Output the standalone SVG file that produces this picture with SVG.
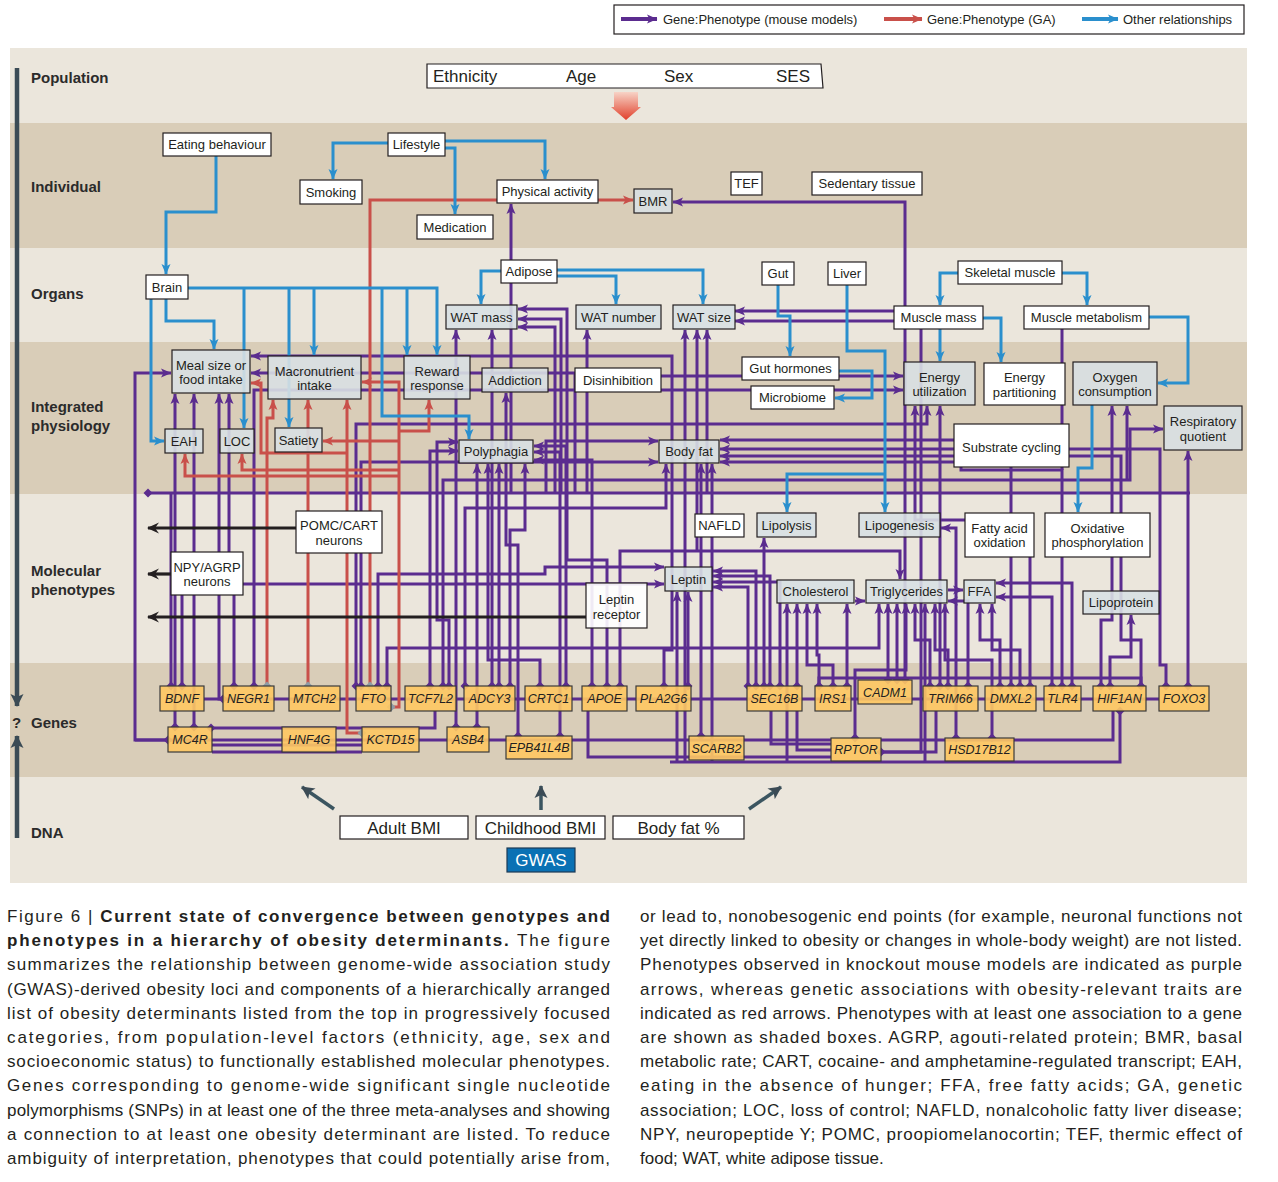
<svg xmlns="http://www.w3.org/2000/svg" width="1278" height="1182" viewBox="0 0 1278 1182">
<defs>
<marker id="ap" markerUnits="userSpaceOnUse" markerWidth="11" markerHeight="10" refX="10" refY="5" orient="auto"><path d="M0,0.5 L10.5,5 L0,9.5 L2.5,5z" fill="#5b2c8f"/></marker>
<marker id="ar" markerUnits="userSpaceOnUse" markerWidth="11" markerHeight="10" refX="10" refY="5" orient="auto"><path d="M0,0.5 L10.5,5 L0,9.5 L2.5,5z" fill="#c9504a"/></marker>
<marker id="ab" markerUnits="userSpaceOnUse" markerWidth="11" markerHeight="10" refX="10" refY="5" orient="auto"><path d="M0,0.5 L10.5,5 L0,9.5 L2.5,5z" fill="#2a8fcd"/></marker>
<marker id="ak" markerUnits="userSpaceOnUse" markerWidth="13" markerHeight="12" refX="1" refY="6" orient="auto"><path d="M12,0.5 L0,6 L12,11.5 L8,6z" fill="#231f20"/></marker>
<marker id="as" markerUnits="userSpaceOnUse" markerWidth="14" markerHeight="14" refX="12" refY="7" orient="auto"><path d="M0,0.5 L13,7 L0,13.5 L3,7z" fill="#3b4b55"/></marker>
<marker id="dp" markerUnits="userSpaceOnUse" markerWidth="10" markerHeight="10" refX="5" refY="5" orient="0"><path d="M5,0.5 L9.5,5 L5,9.5 L0.5,5z" fill="#5b2c8f"/></marker>
<marker id="dg" markerUnits="userSpaceOnUse" markerWidth="10" markerHeight="10" refX="5" refY="5" orient="0"><path d="M5,0.5 L9.5,5 L5,9.5 L0.5,5z" fill="#8d9ca6"/></marker>
<linearGradient id="grad" x1="0" y1="0" x2="0" y2="1"><stop offset="0" stop-color="#f7d3c6"/><stop offset="1" stop-color="#e1402b"/></linearGradient>
<style>
.p{fill:none;stroke:#5b2c8f;stroke-width:3}
.r{fill:none;stroke:#c9504a;stroke-width:3}
.b{fill:none;stroke:#2a8fcd;stroke-width:3}
.k{fill:none;stroke:#231f20;stroke-width:3.2;marker-start:url(#ak)}
.pa{marker-end:url(#ap)}
.pd{marker-start:url(#dp)}
.ra{marker-end:url(#ar)}
.rd{marker-start:url(#dg)}
.b{marker-end:url(#ab)}
.nw rect{fill:#fff;stroke:#231f20;stroke-width:1.2}
.ns rect{fill:#d8e0e3;fill-opacity:0.9;stroke:#231f20;stroke-width:1.2}
.ng rect{fill:#fec862;fill-opacity:0.9;stroke:#3a3a3a;stroke-width:1.2}
text{font-family:"Liberation Sans",Arial,sans-serif;fill:#231f20}
.nw text,.ns text{font-size:13px;text-anchor:middle}
.ng text{font-size:12.5px;font-style:italic;text-anchor:middle}
.band{font-size:15px;font-weight:bold;fill:#2b2b2b}
text.big,.nw text.big{font-size:17px}
.cap{font-size:17px}
.leg{font-size:13px}
</style>
</defs>

<!-- bands -->
<g id="bands">
<rect x="10" y="48" width="1237" height="75" fill="#ebe6dc"/>
<rect x="10" y="123" width="1237" height="125" fill="#d9cdb8"/>
<rect x="10" y="248" width="1237" height="94" fill="#ebe6dc"/>
<rect x="10" y="342" width="1237" height="152" fill="#d9cdb8"/>
<rect x="10" y="494" width="1237" height="169" fill="#ebe6dc"/>
<rect x="10" y="663" width="1237" height="114" fill="#d9cdb8"/>
<rect x="10" y="777" width="1237" height="106" fill="#ebe6dc"/>
</g>

<g id="axis">
<line x1="17" y1="68" x2="17" y2="706" stroke="#3b4b55" stroke-width="4.5" marker-end="url(#as)"/>
<line x1="17" y1="838" x2="17" y2="736" stroke="#3b4b55" stroke-width="4.5" marker-end="url(#as)"/>
<text x="12" y="728" class="band">?</text>
</g>

<g id="band-labels">
<text x="31" y="83" class="band">Population</text>
<text x="31" y="192" class="band">Individual</text>
<text x="31" y="299" class="band">Organs</text>
<text x="31" y="412" class="band">Integrated</text>
<text x="31" y="431" class="band">physiology</text>
<text x="31" y="576" class="band">Molecular</text>
<text x="31" y="595" class="band">phenotypes</text>
<text x="31" y="728" class="band">Genes</text>
<text x="31" y="838" class="band">DNA</text>
</g>

<!-- legend -->
<g id="legend">
<rect x="614" y="5" width="630" height="29" fill="#fff" stroke="#231f20" stroke-width="1.2"/>
<line x1="621" y1="19" x2="657" y2="19" stroke="#5b2c8f" stroke-width="4" marker-end="url(#ap)"/>
<text x="663" y="24" class="leg">Gene:Phenotype (mouse models)</text>
<line x1="884" y1="19" x2="922" y2="19" stroke="#c9504a" stroke-width="4" marker-end="url(#ar)"/>
<text x="927" y="24" class="leg">Gene:Phenotype (GA)</text>
<line x1="1082" y1="19" x2="1118" y2="19" stroke="#2a8fcd" stroke-width="4" marker-end="url(#ab)"/>
<text x="1123" y="24" class="leg">Other relationships</text>
</g>

<!-- population -->
<g id="n-population">
<path d="M427,64 H821 L823,88 H427 Z" fill="#fff" stroke="#231f20" stroke-width="1.2"/>
<text x="433" y="82" class="big">Ethnicity</text>
<text x="566" y="82" class="big">Age</text>
<text x="664" y="82" class="big">Sex</text>
<text x="776" y="82" class="big">SES</text>
</g>
<path id="pop-arrow" d="M614,92 H638 V107 H641 L626,120 L611,107 H614 Z" fill="url(#grad)"/>

<!-- connectors -->
<g id="connectors">
<path class="p" d="M204,699 H1159"/>
<path class="p" d="M135,740 H831"/>
<path class="p" d="M212,745 H362 M212,752 H362"/>
<path class="p pd" d="M211,728 H435 V711"/>
<path class="p" d="M588,711 V757 H831"/>
<path class="p" d="M771,711 V744 H831 M797,711 V750 H831"/>
<path class="p" d="M881,740 H1113 V711"/>
<path class="p" d="M881,752 H936 V711"/>
<path class="p pd" d="M1120,711 V762 H670"/>
<path class="p" d="M819,686 V678 H1141 V686"/>
<path class="p pd" d="M148,493 H1190"/>

<path class="p pd pa" d="M168,740 H135 V373 H171"/>
<path class="p pd pa" d="M175,727 V394"/>
<path class="p pd pa" d="M194,727 V394"/>
<path class="p pd" d="M171,686 V493"/>
<path class="p pd pa" d="M182,686 V584 H664"/>
<path class="p pd pa" d="M223,699 H219 V394"/>
<path class="p pd pa" d="M234,686 V555 H229 V394"/>
<path class="p pd pa" d="M254,686 V390 H903"/>
<path class="p pa" d="M575,493 V373 H251"/>
<path class="p pa" d="M575,376 H903"/>
<path class="p pd pa" d="M356,686 V424 H927 V406"/>
<path class="p pd pa" d="M361,686 V462 H658"/>
<path class="p pd pa" d="M378,686 V574 H545 V567 H664"/>
<path class="p pd pa" d="M387,686 V648 H879 V604"/>
<path class="p pd pa" d="M430,686 V451 H458"/>
<path class="p pd pa" d="M449,686 V620 H437 V442 H458"/>
<path class="p pd pa" d="M443,686 V480 H1130 V429 H1163"/>
<path class="p pa" d="M1127,480 V406"/>
<path class="p pd pa" d="M456,727 V330"/>
<path class="p pd pa" d="M477,727 V464"/>
<path class="p pd pa" d="M465,686 V508 H666 V464"/>
<path class="p pd pa" d="M492,686 V330"/>
<path class="p pd pa" d="M499,686 V464"/>
<path class="p pd pa" d="M510,686 V530 H525 V464"/>
<path class="p pd pa" d="M540,686 V660 H488 V464"/>
<path class="p pd pa" d="M518,736 V545 H506 V393"/>
<path class="p pd pa" d="M566,686 V446 H534"/>
<path class="p pd pa" d="M560,736 V452 H534"/>
<path class="p pd pa" d="M592,686 V460 H534"/>
<path class="p pd pa" d="M607,686 V560 H567 V309 H518"/>
<path class="p pa" d="M561,493 V319 H518"/>
<path class="p pa" d="M555,493 V327 H518"/>
<path class="p pa" d="M587,493 V330"/>
<path class="p pa" d="M511,493 V204"/>
<path class="p pa" d="M546,493 V441 H658"/>
<path class="p pd pa" d="M664,686 V650 H672 V356 H251"/>
<path class="p pd pa" d="M620,686 V551 H900 V579"/>
<path class="p pa" d="M685,762 V330"/>
<path class="p pa" d="M697,551 V330"/>
<path class="p pa" d="M707,493 V330"/>
<path class="p pd pa" d="M701,736 V464"/>
<path class="p pa" d="M712,762 V464"/>
<path class="p pd pa" d="M905,680 V202 H673"/>
<path class="p pa" d="M905,311 H735"/>
<path class="p pd pa" d="M881,752 H921 V321 H735"/>
<path class="p pa" d="M677,762 V592"/>
<path class="p pd pa" d="M688,686 V592"/>
<path class="p pd pa" d="M756,686 V571 H713"/>
<path class="p pd pa" d="M770,686 V576 H713"/>
<path class="p pd pa" d="M780,686 V582 H713"/>
<path class="p pd pa" d="M748,686 V587 H713"/>
<path class="p pd pa" d="M764,686 V538"/>
<path class="p pa" d="M787,762 V604"/>
<path class="p pd pa" d="M797,686 V604"/>
<path class="p pd pa" d="M833,686 V665 H807 V604"/>
<path class="p pd pa" d="M819,686 V655 H817 V604"/>
<path class="p pd pa" d="M847,686 V604"/>
<path class="p pd pa" d="M888,680 V604"/>
<path class="p pd pa" d="M897,680 V604"/>
<path class="p pd pa" d="M855,738 V670 H906 V604"/>
<path class="p pd pa" d="M930,686 V640 H915 V604"/>
<path class="p pa" d="M925,762 V604"/>
<path class="p pd pa" d="M948,686 V650 H935 V604"/>
<path class="p pd pa" d="M992,738 V660 H945 V604"/>
<path class="p pd pa" d="M956,738 V528 H941"/>
<path class="p pd pa" d="M968,686 V601 H948"/>
<path class="p pa" d="M855,601 H865"/>
<path class="p pa" d="M948,590 H963"/>
<path class="p pd pa" d="M1000,686 V640 H980 V604"/>
<path class="p pd pa" d="M1020,686 V650 H992 V604"/>
<path class="p pd pa" d="M1072,686 V583 H996"/>
<path class="p pd pa" d="M1052,686 V597 H996"/>
<path class="p pd pa" d="M1110,686 V657 H1131 V615"/>
<path class="p pd pa" d="M1101,686 V620 H1112 V406"/>
<path class="p pd pa" d="M1188,686 V451"/>
<path class="p pd pa" d="M1166,686 V665 H1160 V449 H720"/>
<path class="p pd pa" d="M1141,686 V640 H1121 V456 H720"/>
<path class="p pd pa" d="M1011,686 V462 H720"/>
<path class="p pd pa" d="M1062,686 V470 H961 V440 H720"/>
<path class="p pd pa" d="M1030,686 V520 H915 V406"/>
<path class="p pd pa" d="M940,686 V406"/>
<path class="p" d="M1062,329 V470"/>

<path class="r rd ra" d="M370,686 V200 H633"/>
<path class="r rd ra" d="M267,686 V418 H273 V400"/>
<path class="r rd ra" d="M308,686 V400"/>
<path class="r rd ra" d="M362,733 H347 V400"/>
<path class="r ra" d="M347,453 H261 V383 H251"/>
<path class="r rd ra" d="M391,707 H399 V382 H362"/>
<path class="r ra" d="M399,431 H429 V400"/>
<path class="r ra" d="M399,441 H323"/>
<path class="r ra" d="M399,470 H242 V454"/>
<path class="r ra" d="M399,476 H185 V454"/>

<path class="b" d="M216,156 V212 H166 V274"/>
<path class="b" d="M388,143 H333 V179"/>
<path class="b" d="M445,141 H545 V179"/>
<path class="b" d="M445,148 H455 V214"/>
<path class="b" d="M188,288 H437 V355"/>
<path class="b" d="M244,288 V428"/>
<path class="b" d="M289,288 V427"/>
<path class="b" d="M314,288 V355"/>
<path class="b" d="M382,288 V416 H469 V439"/>
<path class="b" d="M407,288 V355"/>
<path class="b" d="M151,299 V441 H164"/>
<path class="b" d="M166,299 V321 H214 V349"/>
<path class="b" d="M501,271 H481 V304"/>
<path class="b" d="M557,270 H703 V304"/>
<path class="b" d="M557,276 H616 V304"/>
<path class="b" d="M778,285 V316 H790 V356"/>
<path class="b" d="M839,371 H872 V398 H835"/>
<path class="b" d="M847,285 V351 H885 V512"/>
<path class="b" d="M885,474 H787 V512"/>
<path class="b" d="M958,273 H940 V305"/>
<path class="b" d="M1062,273 H1087 V305"/>
<path class="b" d="M940,329 V361"/>
<path class="b" d="M983,318 H1001 V362"/>
<path class="b" d="M1149,317 H1188 V383 H1158"/>
<path class="b" d="M1092,405 V468 H1078 V512"/>

<path class="k" d="M148,528 H296"/>
<path class="k" d="M148,574 H171"/>
<path class="k" d="M148,617 H586"/>

<path d="M334,809 L302,787" stroke="#3b5560" stroke-width="3.5" fill="none" marker-end="url(#as)"/>
<path d="M541,810 V786" stroke="#3b5560" stroke-width="3.5" fill="none" marker-end="url(#as)"/>
<path d="M749,809 L781,787" stroke="#3b5560" stroke-width="3.5" fill="none" marker-end="url(#as)"/>
</g>

<g id="n-eating" class="nw"><rect x="163" y="133" width="108" height="23"/><text x="217" y="149">Eating behaviour</text></g>
<g id="n-lifestyle" class="nw"><rect x="388" y="133" width="57" height="23"/><text x="416.5" y="149">Lifestyle</text></g>
<g id="n-smoking" class="nw"><rect x="300" y="180" width="62" height="24"/><text x="331" y="196.5">Smoking</text></g>
<g id="n-physical" class="nw"><rect x="497" y="180" width="101" height="23"/><text x="547.5" y="196">Physical activity</text></g>
<g id="n-medication" class="nw"><rect x="417" y="215" width="76" height="24"/><text x="455" y="231.5">Medication</text></g>
<g id="n-bmr" class="ns"><rect x="634" y="189" width="38" height="24"/><text x="653" y="205.5">BMR</text></g>
<g id="n-tef" class="nw"><rect x="731" y="172" width="31" height="23"/><text x="746.5" y="188">TEF</text></g>
<g id="n-sedentary" class="nw"><rect x="812" y="172" width="110" height="23"/><text x="867" y="188">Sedentary tissue</text></g>

<g id="n-brain" class="nw"><rect x="146" y="275" width="42" height="24"/><text x="167" y="291.5">Brain</text></g>
<g id="n-adipose" class="nw"><rect x="501" y="260" width="56" height="23"/><text x="529" y="276">Adipose</text></g>
<g id="n-watmass" class="ns"><rect x="446" y="305" width="71" height="24"/><text x="481.5" y="321.5">WAT mass</text></g>
<g id="n-watnumber" class="ns"><rect x="576" y="305" width="85" height="24"/><text x="618.5" y="321.5">WAT number</text></g>
<g id="n-watsize" class="ns"><rect x="673" y="305" width="62" height="24"/><text x="704" y="321.5">WAT size</text></g>
<g id="n-gut" class="nw"><rect x="762" y="262" width="32" height="23"/><text x="778" y="278">Gut</text></g>
<g id="n-liver" class="nw"><rect x="828" y="262" width="38" height="23"/><text x="847" y="278">Liver</text></g>
<g id="n-skeletal" class="nw"><rect x="958" y="261" width="104" height="23"/><text x="1010" y="277">Skeletal muscle</text></g>
<g id="n-musclemass" class="nw"><rect x="894" y="306" width="89" height="23"/><text x="938.5" y="322">Muscle mass</text></g>
<g id="n-musclemet" class="nw"><rect x="1024" y="306" width="125" height="23"/><text x="1086.5" y="322">Muscle metabolism</text></g>

<g id="n-meal" class="ns"><rect x="172" y="350" width="78" height="43"/><text x="211" y="369.5">Meal size or</text><text x="211" y="384">food intake</text></g>
<g id="n-macro" class="ns"><rect x="268" y="356" width="93" height="43"/><text x="314.5" y="375.5">Macronutrient</text><text x="314.5" y="390">intake</text></g>
<g id="n-reward" class="ns"><rect x="404" y="356" width="66" height="43"/><text x="437" y="375.5">Reward</text><text x="437" y="390">response</text></g>
<g id="n-addiction" class="ns"><rect x="482" y="368" width="66" height="24"/><text x="515" y="384.5">Addiction</text></g>
<g id="n-disinhibition" class="nw"><rect x="575" y="368" width="86" height="24"/><text x="618" y="384.5">Disinhibition</text></g>
<g id="n-guthormones" class="nw"><rect x="742" y="357" width="97" height="23"/><text x="790.5" y="373">Gut hormones</text></g>
<g id="n-microbiome" class="nw"><rect x="751" y="386" width="83" height="23"/><text x="792.5" y="402">Microbiome</text></g>
<g id="n-energyutil" class="ns"><rect x="904" y="362" width="71" height="43"/><text x="939.5" y="381.5">Energy</text><text x="939.5" y="396">utilization</text></g>
<g id="n-energypart" class="nw"><rect x="984" y="363" width="81" height="42"/><text x="1024.5" y="382">Energy</text><text x="1024.5" y="396.5">partitioning</text></g>
<g id="n-oxygen" class="ns"><rect x="1073" y="362" width="84" height="43"/><text x="1115" y="381.5">Oxygen</text><text x="1115" y="396">consumption</text></g>
<g id="n-rq" class="ns"><rect x="1164" y="406" width="78" height="44"/><text x="1203" y="426">Respiratory</text><text x="1203" y="440.5">quotient</text></g>
<g id="n-eah" class="ns"><rect x="165" y="429" width="38" height="24"/><text x="184" y="445.5">EAH</text></g>
<g id="n-loc" class="ns"><rect x="220" y="429" width="34" height="24"/><text x="237" y="445.5">LOC</text></g>
<g id="n-satiety" class="ns"><rect x="275" y="428" width="47" height="24"/><text x="298.5" y="444.5">Satiety</text></g>
<g id="n-polyphagia" class="ns"><rect x="459" y="440" width="74" height="23"/><text x="496" y="456">Polyphagia</text></g>
<g id="n-bodyfat" class="ns"><rect x="659" y="440" width="60" height="23"/><text x="689" y="456">Body fat</text></g>
<g id="n-substrate" class="nw"><rect x="954" y="424" width="115" height="43"/><text x="1011.5" y="452">Substrate cycling</text></g>

<g id="n-pomc" class="nw"><rect x="296" y="511" width="86" height="42"/><text x="339" y="530">POMC/CART</text><text x="339" y="544.5">neurons</text></g>
<g id="n-npy" class="nw"><rect x="171" y="552" width="72" height="43"/><text x="207" y="571.5">NPY/AGRP</text><text x="207" y="586">neurons</text></g>
<g id="n-nafld" class="nw"><rect x="695" y="514" width="49" height="23"/><text x="719.5" y="530">NAFLD</text></g>
<g id="n-lipolysis" class="ns"><rect x="757" y="513" width="59" height="24"/><text x="786.5" y="529.5">Lipolysis</text></g>
<g id="n-lipogenesis" class="ns"><rect x="859" y="513" width="81" height="24"/><text x="899.5" y="529.5">Lipogenesis</text></g>
<g id="n-faox" class="nw"><rect x="965" y="513" width="69" height="44"/><text x="999.5" y="532.5">Fatty acid</text><text x="999.5" y="547">oxidation</text></g>
<g id="n-oxphos" class="nw"><rect x="1045" y="513" width="105" height="44"/><text x="1097.5" y="532.5">Oxidative</text><text x="1097.5" y="547">phosphorylation</text></g>
<g id="n-leptin" class="ns"><rect x="665" y="567" width="47" height="24"/><text x="688.5" y="583.5">Leptin</text></g>
<g id="n-leptinreceptor" class="nw"><rect x="586" y="583" width="61" height="45" fill-opacity="0.9"/><text x="616.5" y="604">Leptin</text><text x="616.5" y="619">receptor</text></g>
<g id="n-cholesterol" class="ns"><rect x="777" y="580" width="77" height="23"/><text x="815.5" y="596">Cholesterol</text></g>
<g id="n-triglycerides" class="ns"><rect x="866" y="580" width="81" height="23"/><text x="906.5" y="596">Triglycerides</text></g>
<g id="n-ffa" class="ns"><rect x="964" y="580" width="31" height="23"/><text x="979.5" y="596">FFA</text></g>
<g id="n-lipoprotein" class="ns"><rect x="1083" y="591" width="76" height="23"/><text x="1121" y="607">Lipoprotein</text></g>

<g id="g-bdnf" class="ng"><rect x="160" y="686" width="44" height="25"/><text x="182" y="703">BDNF</text></g>
<g id="g-negr1" class="ng"><rect x="223" y="686" width="51" height="25"/><text x="248.5" y="703">NEGR1</text></g>
<g id="g-mtch2" class="ng"><rect x="289" y="686" width="51" height="25"/><text x="314.5" y="703">MTCH2</text></g>
<g id="g-fto" class="ng"><rect x="356" y="686" width="35" height="25"/><text x="373.5" y="703">FTO</text></g>
<g id="g-tcf7l2" class="ng"><rect x="405" y="686" width="51" height="25"/><text x="430.5" y="703">TCF7L2</text></g>
<g id="g-adcy3" class="ng"><rect x="464" y="686" width="51" height="25"/><text x="489.5" y="703">ADCY3</text></g>
<g id="g-crtc1" class="ng"><rect x="525" y="686" width="47" height="25"/><text x="548.5" y="703">CRTC1</text></g>
<g id="g-apoe" class="ng"><rect x="582" y="686" width="45" height="25"/><text x="604.5" y="703">APOE</text></g>
<g id="g-pla2g6" class="ng"><rect x="636" y="686" width="55" height="25"/><text x="663.5" y="703">PLA2G6</text></g>
<g id="g-sec16b" class="ng"><rect x="747" y="686" width="55" height="25"/><text x="774.5" y="703">SEC16B</text></g>
<g id="g-irs1" class="ng"><rect x="815" y="686" width="36" height="25"/><text x="833" y="703">IRS1</text></g>
<g id="g-cadm1" class="ng"><rect x="858" y="680" width="54" height="24"/><text x="885" y="696.5">CADM1</text></g>
<g id="g-trim66" class="ng"><rect x="923" y="686" width="55" height="25"/><text x="950.5" y="703">TRIM66</text></g>
<g id="g-dmxl2" class="ng"><rect x="985" y="686" width="51" height="25"/><text x="1010.5" y="703">DMXL2</text></g>
<g id="g-tlr4" class="ng"><rect x="1044" y="686" width="37" height="25"/><text x="1062.5" y="703">TLR4</text></g>
<g id="g-hif1an" class="ng"><rect x="1093" y="686" width="53" height="25"/><text x="1119.5" y="703">HIF1AN</text></g>
<g id="g-foxo3" class="ng"><rect x="1159" y="686" width="50" height="25"/><text x="1184" y="703">FOXO3</text></g>
<g id="g-mc4r" class="ng"><rect x="168" y="727" width="44" height="25"/><text x="190" y="744">MC4R</text></g>
<g id="g-hnf4g" class="ng"><rect x="282" y="727" width="54" height="25"/><text x="309" y="744">HNF4G</text></g>
<g id="g-kctd15" class="ng"><rect x="362" y="727" width="57" height="25"/><text x="390.5" y="744">KCTD15</text></g>
<g id="g-asb4" class="ng"><rect x="447" y="727" width="42" height="25"/><text x="468" y="744">ASB4</text></g>
<g id="g-epb41l4b" class="ng"><rect x="506" y="736" width="66" height="23"/><text x="539" y="752">EPB41L4B</text></g>
<g id="g-scarb2" class="ng"><rect x="689" y="736" width="55" height="24"/><text x="716.5" y="752.5">SCARB2</text></g>
<g id="g-rptor" class="ng"><rect x="831" y="738" width="50" height="23"/><text x="856" y="754">RPTOR</text></g>
<g id="g-hsd17b12" class="ng"><rect x="945" y="738" width="69" height="23"/><text x="979.5" y="754">HSD17B12</text></g>

<g id="n-adultbmi" class="nw"><rect x="340" y="816" width="128" height="23"/><text x="404" y="834" class="big">Adult BMI</text></g>
<g id="n-childbmi" class="nw"><rect x="476" y="816" width="129" height="23"/><text x="540.5" y="834" class="big">Childhood BMI</text></g>
<g id="n-bodyfatpct" class="nw"><rect x="613" y="816" width="131" height="23"/><text x="678.5" y="834" class="big">Body fat %</text></g>
<g id="n-gwas"><rect x="507" y="848" width="68" height="24" fill="#0a71b4" stroke="#1b3a55" stroke-width="1.2"/><text x="541" y="866" text-anchor="middle" class="big" style="fill:#fff">GWAS</text></g>

<g id="caption" class="cap">
<text x="7" y="922" textLength="603" lengthAdjust="spacing">Figure 6 | <tspan font-weight="bold">Current state of convergence between genotypes and</tspan></text>
<text x="7" y="946" textLength="603" lengthAdjust="spacing"><tspan font-weight="bold">phenotypes in a hierarchy of obesity determinants.</tspan> The figure</text>
<text x="7" y="970" textLength="603" lengthAdjust="spacing">summarizes the relationship between genome-wide association study</text>
<text x="7" y="995" textLength="603" lengthAdjust="spacing">(GWAS)-derived obesity loci and components of a hierarchically arranged</text>
<text x="7" y="1019" textLength="603" lengthAdjust="spacing">list of obesity determinants listed from the top in progressively focused</text>
<text x="7" y="1043" textLength="603" lengthAdjust="spacing">categories, from population-level factors (ethnicity, age, sex and</text>
<text x="7" y="1067" textLength="603" lengthAdjust="spacing">socioeconomic status) to functionally established molecular phenotypes.</text>
<text x="7" y="1091" textLength="603" lengthAdjust="spacing">Genes corresponding to genome-wide significant single nucleotide</text>
<text x="7" y="1116" textLength="603" lengthAdjust="spacing">polymorphisms (SNPs) in at least one of the three meta-analyses and showing</text>
<text x="7" y="1140" textLength="603" lengthAdjust="spacing">a connection to at least one obesity determinant are listed. To reduce</text>
<text x="7" y="1164" textLength="603" lengthAdjust="spacing">ambiguity of interpretation, phenotypes that could potentially arise from,</text>
<text x="640" y="922" textLength="602" lengthAdjust="spacing">or lead to, nonobesogenic end points (for example, neuronal functions not</text>
<text x="640" y="946" textLength="602" lengthAdjust="spacing">yet directly linked to obesity or changes in whole-body weight) are not listed.</text>
<text x="640" y="970" textLength="602" lengthAdjust="spacing">Phenotypes observed in knockout mouse models are indicated as purple</text>
<text x="640" y="995" textLength="602" lengthAdjust="spacing">arrows, whereas genetic associations with obesity-relevant traits are</text>
<text x="640" y="1019" textLength="602" lengthAdjust="spacing">indicated as red arrows. Phenotypes with at least one association to a gene</text>
<text x="640" y="1043" textLength="602" lengthAdjust="spacing">are shown as shaded boxes. AGRP, agouti-related protein; BMR, basal</text>
<text x="640" y="1067" textLength="602" lengthAdjust="spacing">metabolic rate; CART, cocaine- and amphetamine-regulated transcript; EAH,</text>
<text x="640" y="1091" textLength="602" lengthAdjust="spacing">eating in the absence of hunger; FFA, free fatty acids; GA, genetic</text>
<text x="640" y="1116" textLength="602" lengthAdjust="spacing">association; LOC, loss of control; NAFLD, nonalcoholic fatty liver disease;</text>
<text x="640" y="1140" textLength="602" lengthAdjust="spacing">NPY, neuropeptide Y; POMC, proopiomelanocortin; TEF, thermic effect of</text>
<text x="640" y="1164">food; WAT, white adipose tissue.</text>
</g>
</svg>
